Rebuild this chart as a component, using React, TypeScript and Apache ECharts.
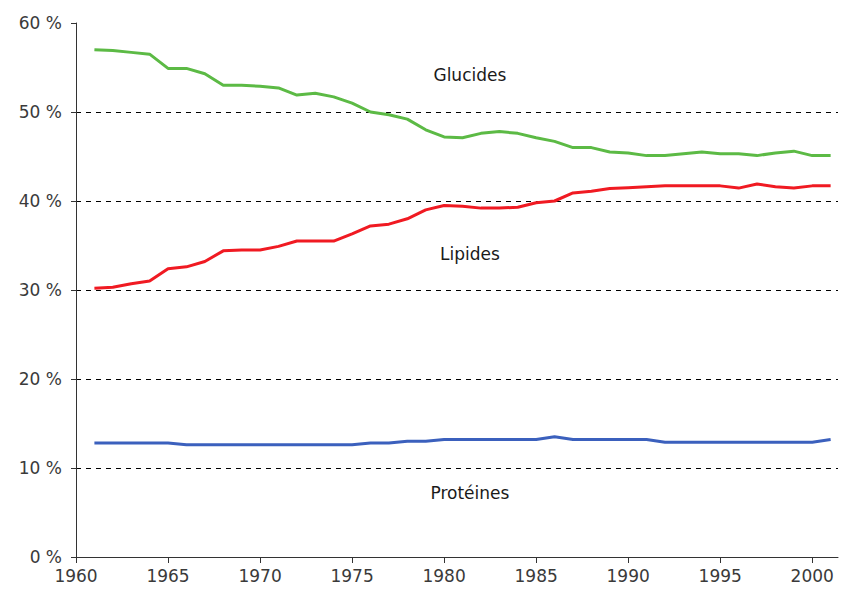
import React, { useEffect, useRef } from "react";
import * as echarts from "echarts";

const years = [
  1961, 1962, 1963, 1964, 1965, 1966, 1967, 1968, 1969, 1970,
  1971, 1972, 1973, 1974, 1975, 1976, 1977, 1978, 1979, 1980,
  1981, 1982, 1983, 1984, 1985, 1986, 1987, 1988, 1989, 1990,
  1991, 1992, 1993, 1994, 1995, 1996, 1997, 1998, 1999, 2000, 2001,
];

const glucides = [
  57.0, 56.9, 56.7, 56.5, 54.9, 54.9, 54.3, 53.0, 53.0, 52.9,
  52.7, 51.9, 52.1, 51.7, 51.0, 50.0, 49.7, 49.2, 48.0, 47.2,
  47.1, 47.6, 47.8, 47.6, 47.1, 46.7, 46.0, 46.0, 45.5, 45.4,
  45.1, 45.1, 45.3, 45.5, 45.3, 45.3, 45.1, 45.4, 45.6, 45.1, 45.1,
];

const lipides = [
  30.2, 30.3, 30.7, 31.0, 32.4, 32.6, 33.2, 34.4, 34.5, 34.5,
  34.9, 35.5, 35.5, 35.5, 36.3, 37.2, 37.4, 38.0, 39.0, 39.5,
  39.4, 39.2, 39.2, 39.3, 39.8, 40.0, 40.9, 41.1, 41.4, 41.5,
  41.6, 41.7, 41.7, 41.7, 41.7, 41.45, 41.9, 41.6, 41.45, 41.7, 41.7,
];

const proteines = [
  12.8, 12.8, 12.8, 12.8, 12.8, 12.6, 12.6, 12.6, 12.6, 12.6,
  12.6, 12.6, 12.6, 12.6, 12.6, 12.8, 12.8, 13.0, 13.0, 13.2,
  13.2, 13.2, 13.2, 13.2, 13.2, 13.5, 13.2, 13.2, 13.2, 13.2,
  13.2, 12.9, 12.9, 12.9, 12.9, 12.9, 12.9, 12.9, 12.9, 12.9, 13.2,
];

const xTicks = [1960, 1965, 1970, 1975, 1980, 1985, 1990, 1995, 2000];

const seriesNames = ["Glucides", "Lipides", "Protéines"];
const seriesColors = ["#5cba45", "#f01a22", "#3b60bd"];
const labelPositions: [number, number][] = [
  [1981.4, 54.2],
  [1981.4, 34.1],
  [1981.4, 7.2],
];

const FONT = "DejaVu Sans";

export default function App() {
  const ref = useRef<HTMLDivElement>(null);

  useEffect(() => {
    if (!ref.current) return;
    const chart = echarts.init(ref.current, null, { renderer: "svg" });
    const dataSets = [glucides, lipides, proteines];
    chart.setOption({
      animation: false,
      backgroundColor: "#ffffff",
      grid: { left: 76, right: 3, top: 23, bottom: 42, containLabel: false },
      xAxis: {
        type: "value",
        min: 1960,
        max: 2001.4,
        interval: 5,
        axisLine: { show: true, onZero: false, lineStyle: { color: "#333", width: 1 } },
        axisTick: { show: true, length: 6, customValues: xTicks, lineStyle: { color: "#333" } },
        axisLabel: {
          customValues: xTicks,
          margin: 10,
          color: "#3a3a3a",
          fontFamily: FONT,
          fontSize: 17,
          formatter: (v: number) => String(v),
        },
        splitLine: { show: false },
      },
      yAxis: {
        type: "value",
        min: 0,
        max: 60,
        interval: 10,
        axisLine: { show: true, lineStyle: { color: "#333", width: 1 } },
        axisTick: { show: true, length: 5, lineStyle: { color: "#333" } },
        axisLabel: {
          margin: 14,
          color: "#3a3a3a",
          fontFamily: FONT,
          fontSize: 17,
          formatter: (v: number) => v + " %",
        },
        splitLine: {
          show: true,
          showMaxLine: false,
          showMinLine: false,
          lineStyle: { color: "#000", width: 1, type: [5, 5] },
        },
      },
      series: dataSets.map((d, i) => ({
        name: seriesNames[i],
        type: "line",
        symbol: "none",
        data: years.map((y, k) => [y, d[k]]),
        lineStyle: { color: seriesColors[i], width: 3 },
        itemStyle: { color: seriesColors[i] },
        z: 3,
        markPoint: {
          symbol: "circle",
          symbolSize: 0,
          silent: true,
          data: [
            {
              coord: labelPositions[i],
              label: {
                show: true,
                position: "inside",
                formatter: seriesNames[i],
                color: "#1a1a1a",
                fontFamily: FONT,
                fontSize: 17,
              },
            },
          ],
        },
      })),
    });
    return () => chart.dispose();
  }, []);

  return (
    <div
      ref={ref}
      style={{ position: "fixed", left: 0, top: 0, width: 841, height: 599, background: "#fff" }}
    />
  );
}
